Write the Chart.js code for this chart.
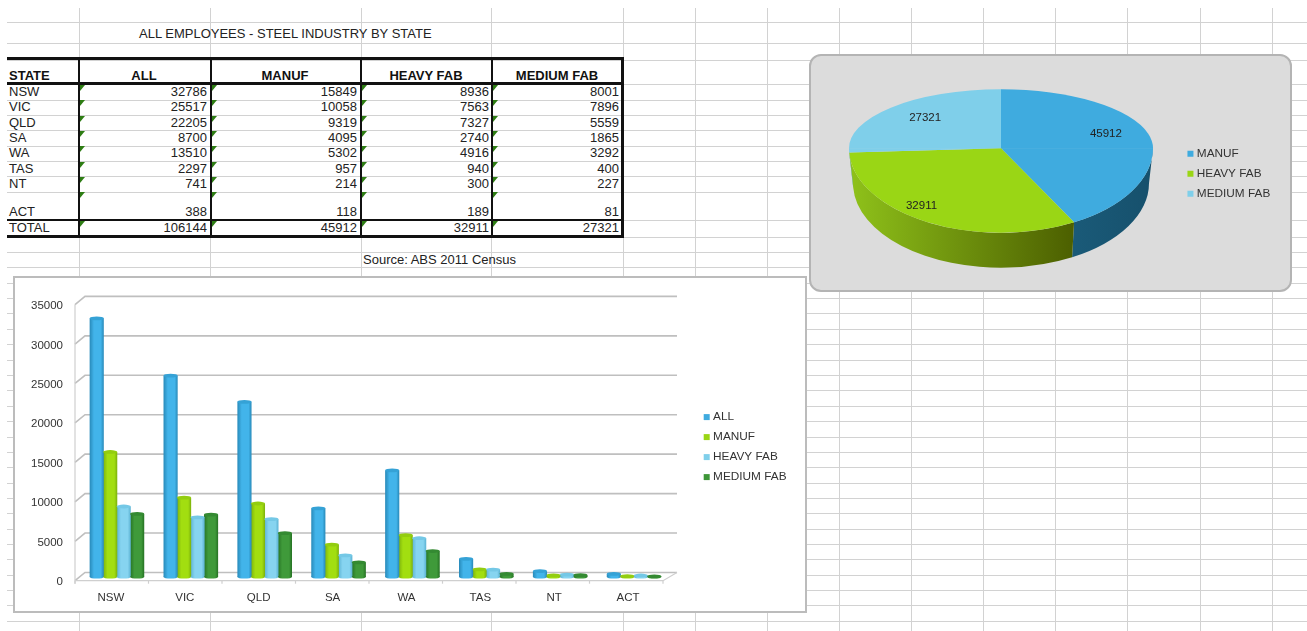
<!DOCTYPE html>
<html>
<head>
<meta charset="utf-8">
<title>All employees - steel industry by state</title>
<script src="https://cdn.jsdelivr.net/npm/chart.js@4"></script>
<style>
  html,body{margin:0;padding:0;background:#fff;overflow:hidden;width:1307px;height:631px;font-family:"Liberation Sans",Arial,sans-serif;color:#222;}
  #page{position:absolute;left:0;top:0;width:1307px;height:631px;overflow:hidden;filter:blur(0.4px);background:#fff;}
  #sheet{position:absolute;left:0;top:0;width:1307px;height:631px;overflow:hidden;}
  .gl{position:absolute;background:#d2d2d2;}
  .bk{position:absolute;background:#111;}
  .t{position:absolute;font-size:13px;line-height:16px;height:16px;white-space:nowrap;}
  .b{font-weight:bold;color:#111;}
  .tri{position:absolute;width:0;height:0;border-top:6px solid #2e7d14;border-right:5px solid transparent;}
  #barFrame{position:absolute;left:13px;top:276px;width:790px;height:333px;background:#fff;border:2px solid #bcbcbc;}
  #pieFrame{position:absolute;left:809px;top:54px;width:479px;height:234px;background:#dcdcdc;border:2px solid #b4b4b4;border-radius:12px;}
  canvas{position:absolute;left:-1px;top:-1px;}
</style>
</head>
<body>
<div id="page">
<div id="sheet"></div>
<div id="barFrame"><canvas id="bar" width="792" height="335"></canvas></div>
<div id="pieFrame"><canvas id="pie" width="481" height="236"></canvas></div>
</div>
<script>
const categories = ["NSW","VIC","QLD","SA","WA","TAS","NT","ACT"];
const seriesNames = ["ALL","MANUF","HEAVY FAB","MEDIUM FAB"];
const allValues = [32786,25517,22205,8700,13510,2297,741,388];
const manufValues = [15849,10058,9319,4095,5302,957,214,118];
const heavyValues = [8936,7563,7327,2740,4916,940,300,189];
const mediumValues = [8001,7896,5559,1865,3292,400,227,81];
const totals = [106144,45912,32911,27321];
const pieLabels = ["MANUF","HEAVY FAB","MEDIUM FAB"];
const pieValues = [45912,32911,27321];
const yTicks = [0,5000,10000,15000,20000,25000,30000,35000];

/* ---------- spreadsheet page ---------- */
const sheet = document.getElementById('sheet');
function add(cls, css, text){
  const d = document.createElement('div'); d.className = cls;
  d.style.cssText = css; if(text !== undefined) d.textContent = text;
  sheet.appendChild(d); return d;
}
const colLines = [78.5,210,360.5,491,622.7,694.7,767,839,911,983,1055,1127,1199.5,1272];
let rowLines = [21.5,42.5,59.5,84,99.5,115,130,145.5,161,176,191.5,220,236.5,252,267,282.5,298,313.3,329,344,359.5,375,390,406,421,436.5,452,467,482.5,498,513,529,544,559,575,590,605,621];
rowLines.forEach(y => add('gl', `left:7px;width:1300px;top:${Math.round(y)}px;height:1px;`));
colLines.forEach(x => add('gl', `left:${Math.round(x)}px;width:1px;top:8px;height:623px;`));

// table rules
add('bk', 'left:7px;width:617px;top:57px;height:3px;');
add('bk', 'left:7px;width:617px;top:82px;height:2.5px;');
add('bk', 'left:7px;width:617px;top:218.5px;height:2.5px;');
add('bk', 'left:7px;width:617px;top:235px;height:2.5px;');
add('bk', 'left:621px;width:2.5px;top:57px;height:180px;');
[78,210,360,491].forEach(x => add('bk', `left:${x}px;width:1.5px;top:58px;height:179px;`));

function label(text, x, cy, align, bold){
  const base = `top:${cy-8}px;`;
  let css = base;
  if(align === 'l') css += `left:${x}px;`;
  if(align === 'r') css += `right:${1307-x}px;`;
  if(align === 'c') css += `left:${x-100}px;width:200px;text-align:center;`;
  add('t' + (bold ? ' b' : ''), css, text);
}
label('ALL EMPLOYEES - STEEL INDUSTRY BY STATE', 139, 33.5, 'l');
label('Source: ABS 2011 Census', 363, 259.5, 'l');
label('STATE', 9, 75.5, 'l', true);
[[seriesNames[0],144],[seriesNames[1],285],[seriesNames[2],426],[seriesNames[3],557]].forEach(h => label(h[0], h[1], 75.5, 'c', true));
const rowCenters = [91.7,107,122.7,138,153,169,184,211.5];
const rowTops = [84.5,100,115.5,130.5,146,161.5,176.5,192];
const colRights = [207,357,489,619];
const triX = [79.5,211.5,361.5,492.5];
const columns = [allValues,manufValues,heavyValues,mediumValues];
categories.forEach((c,i) => {
  label(c, 9, rowCenters[i], 'l');
  columns.forEach((col,j) => {
    label(String(col[i]), colRights[j], rowCenters[i], 'r');
    add('tri', `left:${triX[j]}px;top:${rowTops[i]}px;`);
  });
});
label('TOTAL', 9, 228, 'l');
totals.forEach((v,j) => {
  label(String(v), colRights[j], 228, 'r');
  add('tri', `left:${triX[j]}px;top:221px;`);
});

/* ---------- shared ---------- */
const FONT = '"Liberation Sans", Arial, sans-serif';
Chart.defaults.font.family = FONT;
Chart.defaults.font.size = 11.5;
Chart.defaults.color = '#333';
Chart.defaults.animation = false;

function swatchLabels(names, colors){
  return () => names.map((n,i) => ({
    text:n, fillStyle:colors[i], strokeStyle:colors[i], lineWidth:5,
    hidden:false, datasetIndex:i, index:i, fontColor:'#333'
  }));
}
function placeLegend(legendLeft, legendTop, fixedWidth){
  return {
    id:'placeLegend',
    beforeLayout(chart){
      const lg = chart.legend;
      if(lg && !lg._patched){
        const f = lg.fit;
        lg.fit = function(){ f.call(this); this.width = fixedWidth; this.minSize = {width:fixedWidth,height:this.height}; };
        lg._patched = true;
      }
    },
    beforeDraw(chart){
      const lg = chart.legend; const w = lg.width; const h = lg.height;
      lg.left = legendLeft; lg.right = legendLeft + w; lg.top = legendTop; lg.bottom = legendTop + h;
    }
  };
}
const legendOpts = (names, colors) => ({
  display:true, position:'right', align:'start',
  labels:{boxWidth:1, boxHeight:1, padding:8.2, font:{size:11.8,family:FONT}, color:'#333', generateLabels:swatchLabels(names,colors)}
});

/* ---------- 3D bar chart ---------- */
const barMid  = ['#42b4ea','#a2de10','#86d4f0','#3f9a3a'];
const barEdge = ['#2a8dbd','#7fb50c','#5fb5d5','#287626'];
const barCap  = ['#35a2d6','#93cd10','#74c8e6','#348a32'];
const barSolid= ['#3fabdf','#9ad615','#7fcfea','#3d9638'];
const CAT_PCT = 0.73;
function barFill(ctx){
  const i = ctx.datasetIndex, di = ctx.dataIndex;
  const sx = ctx.chart.scales && ctx.chart.scales.x;
  if(di === undefined || !sx) return barMid[i];
  const cw = sx.width / categories.length;
  const w = cw * CAT_PCT / 4;
  const cx = sx.getPixelForValue(di) + (i - 1.5) * w;
  const g = ctx.chart.ctx.createLinearGradient(cx - w/2, 0, cx + w/2, 0);
  g.addColorStop(0, barEdge[i]); g.addColorStop(0.3, barMid[i]);
  g.addColorStop(0.8, barMid[i]); g.addColorStop(1, barEdge[i]);
  return g;
}
const bar3d = {
  id:'bar3d',
  beforeDatasetsDraw(chart){
    const {ctx, chartArea:a, scales:{y,x}} = chart;
    const FRONT = 3.7, BACK = -4.5;
    const fl = a.left - 5, fr = a.right - 8, bl = a.left + 5, br = a.right + 6;
    ctx.save();
    ctx.strokeStyle = '#bfbfbf'; ctx.lineWidth = 1.6;
    y.ticks.forEach(t => {
      const p = y.getPixelForValue(t.value);
      ctx.beginPath(); ctx.moveTo(fl, p + FRONT); ctx.lineTo(bl, p + BACK); ctx.lineTo(br, p + BACK); ctx.stroke();
    });
    const p0 = y.getPixelForValue(0), pT = y.getPixelForValue(35000);
    ctx.lineWidth = 1.2; ctx.strokeStyle = '#cfcfcf';
    ctx.beginPath(); ctx.moveTo(fl, pT + FRONT); ctx.lineTo(fl, p0 + FRONT + 3); ctx.stroke();
    ctx.beginPath(); ctx.moveTo(fl, p0 + FRONT); ctx.lineTo(fr, p0 + FRONT); ctx.lineTo(br, p0 + BACK); ctx.stroke();
    const step = (fr - fl) / categories.length;
    for(let k = 0; k <= categories.length; k++){
      ctx.beginPath(); ctx.moveTo(fl + k*step, p0 + FRONT); ctx.lineTo(fl + k*step, p0 + FRONT + 3); ctx.stroke();
    }
    ctx.restore();
  },
  afterDatasetsDraw(chart){
    const ctx = chart.ctx;
    chart.data.datasets.forEach((ds,i) => {
      chart.getDatasetMeta(i).data.forEach(el => {
        const rx = el.width/2, x = el.x;
        ctx.save();
        ctx.fillStyle = el.options.backgroundColor;
        ctx.beginPath(); ctx.ellipse(x, el.base, rx, 1.6, 0, 0, Math.PI*2); ctx.fill();
        ctx.fillStyle = barCap[i];
        ctx.beginPath(); ctx.ellipse(x, el.y, rx, 1.9, 0, 0, Math.PI*2); ctx.fill();
        ctx.restore();
      });
    });
  }
};
new Chart(document.getElementById('bar'), {
  type:'bar',
  data:{
    labels:categories,
    datasets:[allValues,manufValues,heavyValues,mediumValues].map((v,i) => ({
      label:seriesNames[i], data:v, backgroundColor:barFill, borderWidth:0,
      barPercentage:1.05, categoryPercentage:CAT_PCT, clip:false
    }))
  },
  options:{
    responsive:false, animation:false,
    layout:{padding:{top:22,left:0,right:0,bottom:0}},
    plugins:{legend:legendOpts(seriesNames,barSolid), tooltip:{enabled:false}},
    scales:{
      x:{
        grid:{display:false,drawTicks:false}, border:{display:false},
        ticks:{padding:14,labelOffset:-6,font:{size:11.5},color:'#333',maxRotation:0,autoSkip:false},
        afterFit(s){ s.height = 35; }
      },
      y:{
        min:0, max:35000,
        afterBuildTicks(s){ s.ticks = yTicks.map(v => ({value:v})); },
        grid:{display:false,drawTicks:false}, border:{display:false},
        ticks:{padding:17,labelOffset:5,font:{size:11.5},color:'#333',callback:v => String(v)},
        afterFit(s){ s.width = 66; }
      }
    }
  },
  plugins:[bar3d, placeLegend(684, 126, 135)]
});

/* ---------- 3D pie chart ---------- */
const pieColors = ['#3fabdf','#9ad615','#7fcfea'];
const pieSides  = [['#1a5a78','#16506c'],['#8fc21a','#4c5f00'],['#5aa4bd','#5aa4bd']];
const CX = 191, CY = 93.3, RX = 152, RY_UP = 59, RY_DN = 84.4, DEPTH = 35, RX_LOW = 148;
const labelFrac = [[0.706,1.13],[1.0,0.806],[0.69,0.76]];
// perspective foreshortening of the near half of the disc
const warp = a => (a > 0 && a < Math.PI) ? a - 0.085 * Math.sin(a) : a;
const pie3d = {
  id:'pie3d',
  beforeDatasetDraw(){ return false; },
  afterDatasetsDraw(chart){
    const ctx = chart.ctx, arcs = chart.getDatasetMeta(0).data;
    // sides (only the near half of the rim shows)
    arcs.forEach((arc,i) => {
      const s = warp(Math.max(arc.startAngle, 0)), e = warp(Math.min(arc.endAngle, Math.PI));
      if(e <= s) return;
      const [c0,c1] = pieSides[i];
      const xa = CX + RX*Math.cos(e), xb = CX + RX*Math.cos(s);
      const g = ctx.createLinearGradient(xa,0,xb,0);
      g.addColorStop(0,c0); g.addColorStop(1,c1);
      ctx.save();
      ctx.fillStyle = g;
      ctx.beginPath();
      ctx.ellipse(CX, CY, RX, RY_DN, 0, s, e, false);
      ctx.ellipse(CX, CY + DEPTH, RX_LOW, RY_DN, 0, e, s, true);
      ctx.closePath(); ctx.fill();
      ctx.restore();
    });
    // top face: library arcs, squeezed differently above and below the apex
    const paint = (ry, y0, h) => {
      ctx.save();
      ctx.beginPath(); ctx.rect(0, y0, chart.width, h); ctx.clip();
      arcs.forEach(arc => {
        const k = RX / arc.outerRadius;
        const sa = arc.startAngle, ea = arc.endAngle;
        arc.startAngle = warp(sa); arc.endAngle = warp(ea);
        ctx.save();
        ctx.translate(CX, CY);
        ctx.scale(k, ry / arc.outerRadius);
        ctx.translate(-arc.x, -arc.y);
        arc.draw(ctx);
        ctx.restore();
        arc.startAngle = sa; arc.endAngle = ea;
      });
      ctx.restore();
    };
    paint(RY_UP, 0, CY + 0.4);
    paint(RY_DN, CY, chart.height - CY);
    // value labels
    ctx.save();
    ctx.font = '11.5px ' + FONT; ctx.fillStyle = '#222';
    ctx.textAlign = 'center'; ctx.textBaseline = 'middle';
    arcs.forEach((arc,i) => {
      const m = (arc.startAngle + arc.endAngle) / 2;
      const c = Math.cos(m), s = Math.sin(m);
      const x = CX + labelFrac[i][0] * RX * c;
      const y = CY + labelFrac[i][1] * (s < 0 ? RY_UP : RY_DN) * s;
      ctx.fillText(String(pieValues[i]), x, y);
    });
    ctx.restore();
  }
};
new Chart(document.getElementById('pie'), {
  type:'pie',
  data:{labels:pieLabels, datasets:[{data:pieValues, backgroundColor:pieColors, borderWidth:0, clip:false}]},
  options:{
    responsive:false, animation:false,
    plugins:{legend:legendOpts(pieLabels,pieColors), tooltip:{enabled:false}}
  },
  plugins:[pie3d, placeLegend(371.75, 84.6, 100)]
});
</script>
</body>
</html>
